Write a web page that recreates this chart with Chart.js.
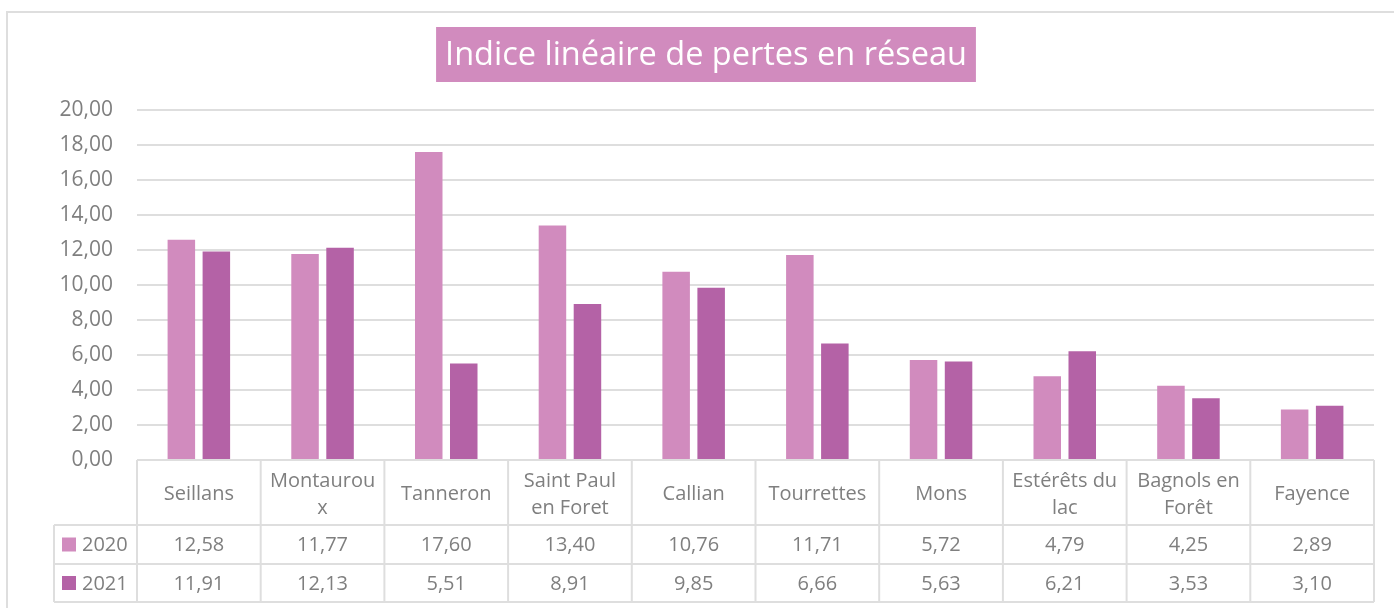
<!DOCTYPE html>
<html>
<head>
<meta charset="utf-8">
<script src="https://cdn.jsdelivr.net/npm/chart.js@4"></script>
<style>
  html, body { margin: 0; padding: 0; background: #fff; }
  #wrap { width: 1394px; height: 608px; position: relative; }
</style>
</head>
<body>
<div id="wrap"><canvas id="ilp-chart"></canvas></div>
<script>
// data
const communes = ['Seillans', ['Montaurou', 'x'], 'Tanneron', ['Saint Paul', 'en Foret'], 'Callian',
  'Tourrettes', 'Mons', ['Estérêts du', 'lac'], ['Bagnols en', 'Forêt'], 'Fayence'];
const years = ['2020', '2021'];
const ilp2020 = [12.58, 11.77, 17.60, 13.40, 10.76, 11.71, 5.72, 4.79, 4.25, 2.89];
const ilp2021 = [11.91, 12.13, 5.51, 8.91, 9.85, 6.66, 5.63, 6.21, 3.53, 3.10];
const yMin = 0, yMax = 20, yStep = 2;
const chartTitle = 'Indice linéaire de pertes en réseau';

const pink = '#d18bbe';
const plum = '#b462a6';
const greyText = '#7f7f7f';
const lineCol = '#dedede';
const font = '"Open Sans", "Noto Sans", sans-serif';

const fmt = v => v.toFixed(2).replace('.', ',');

// frame, title box and data table (Excel style)
const excelBits = {
  id: 'excelBits',
  beforeDraw(chart) {
    const ctx = chart.ctx;
    ctx.save();
    ctx.fillStyle = '#fff';
    ctx.fillRect(0, 0, chart.width, chart.height);
    ctx.strokeStyle = lineCol;
    ctx.lineWidth = 2;
    ctx.strokeRect(7, 12, chart.width + 20, chart.height + 20);

    // title with filled box
    ctx.font = '32.5px ' + font;
    const tw = ctx.measureText(chartTitle).width;
    const cx = 706;
    ctx.fillStyle = pink;
    ctx.fillRect(cx - tw / 2 - 9, 27, tw + 18, 55);
    ctx.fillStyle = '#fff';
    ctx.textAlign = 'center';
    ctx.textBaseline = 'middle';
    ctx.fillText(chartTitle, cx, 56);
    ctx.restore();
  },
  afterDraw(chart) {
    const ctx = chart.ctx;
    const x = chart.scales.x;
    const area = chart.chartArea;
    const n = communes.length;
    const colW = (area.right - area.left) / n;
    const top = area.bottom;
    const r1 = top + 65, r2 = r1 + 39, r3 = r2 + 38;
    const legendLeft = 54;

    ctx.save();
    ctx.strokeStyle = lineCol;
    ctx.lineWidth = 2;
    ctx.beginPath();
    ctx.moveTo(area.left, top); ctx.lineTo(area.right, top);
    [r1, r2, r3].forEach(y => { ctx.moveTo(legendLeft, y); ctx.lineTo(area.right, y); });
    for (let i = 0; i <= n; i++) {
      const xx = area.left + i * colW;
      ctx.moveTo(xx, top); ctx.lineTo(xx, r3);
    }
    ctx.moveTo(legendLeft, r1); ctx.lineTo(legendLeft, r3);
    ctx.stroke();

    ctx.fillStyle = greyText;
    ctx.font = '20px ' + font;
    ctx.textAlign = 'center';
    ctx.textBaseline = 'middle';
    communes.forEach((c, i) => {
      const px = x.getPixelForValue(i);
      const lines = Array.isArray(c) ? c : [c];
      const mid = (top + r1) / 2 + 2;
      lines.forEach((ln, k) => {
        ctx.fillText(ln, px, mid + (k - (lines.length - 1) / 2) * 27);
      });
      ctx.fillText(fmt(ilp2020[i]), px, (r1 + r2) / 2 + 1);
      ctx.fillText(fmt(ilp2021[i]), px, (r2 + r3) / 2 + 1);
    });

    // legend keys inside the table
    const rows = [(r1 + r2) / 2, (r2 + r3) / 2];
    chart.data.datasets.forEach((ds, k) => {
      ctx.fillStyle = ds.backgroundColor;
      ctx.fillRect(62, rows[k] - 7, 14, 14);
      ctx.fillStyle = greyText;
      ctx.textAlign = 'left';
      ctx.fillText(ds.label, 82, rows[k] + 1);
    });
    ctx.restore();
  }
};

new Chart(document.getElementById('ilp-chart'), {
  type: 'bar',
  data: {
    labels: communes,
    datasets: [
      { label: years[0], data: ilp2020, backgroundColor: pink },
      { label: years[1], data: ilp2021, backgroundColor: plum }
    ]
  },
  options: {
    responsive: true,
    maintainAspectRatio: false,
    animation: false,
    categoryPercentage: 0.566,
    barPercentage: 0.786,
    layout: { padding: { top: 110, right: 20, bottom: 148, left: 0 } },
    scales: {
      x: { display: false },
      y: {
        min: yMin, max: yMax,
        border: { display: false },
        grid: { color: lineCol, lineWidth: 2, drawTicks: false },
        ticks: {
          stepSize: yStep,
          padding: 24,
          color: greyText,
          font: { family: font, size: 21 },
          callback: v => fmt(v)
        },
        afterFit(scale) { scale.width = 137; }
      }
    },
    plugins: {
      legend: { display: false },
      title: { display: false },
      tooltip: { enabled: false }
    }
  },
  plugins: [excelBits]
});
</script>
</body>
</html>
